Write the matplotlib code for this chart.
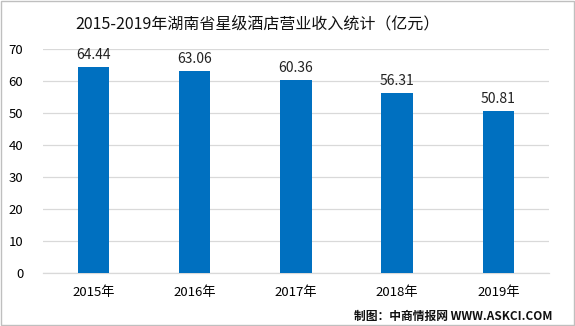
import matplotlib
matplotlib.use("Agg")
import matplotlib.pyplot as plt
from matplotlib.patches import Rectangle

plt.rcParams['font.family'] = ['Noto Sans CJK SC', 'DejaVu Sans']

categories = ["2015年", "2016年", "2017年", "2018年", "2019年"]
values = [64.44, 63.06, 60.36, 56.31, 50.81]
yticks = [0, 10, 20, 30, 40, 50, 60, 70]
title = "2015-2019年湖南省星级酒店营业收入统计（亿元）"
source = "制图：中商情报网 WWW.ASKCI.COM"

fig = plt.figure(figsize=(5.75, 3.26), dpi=100)
fig.patch.set_facecolor("white")
ax = fig.add_axes([0.0743, 0.1617, 0.8805, 0.6871])

x = list(range(len(categories)))
ax.bar(x, values, width=0.31, color="#0070C0", zorder=3)
for xi, v in zip(x, values):
    ax.text(xi, v + 1.6, f"{v:.2f}", ha="center", va="bottom", fontsize=10, color="#222222")

ax.set_xlim(-0.5, len(categories) - 0.5)
ax.set_ylim(0, 70)
ax.set_yticks(yticks)
ax.set_xticks(x)
ax.set_xticklabels(categories, fontsize=9.5)
ax.tick_params(axis="y", labelsize=9.5, length=0, pad=14)
ax.tick_params(axis="x", length=0, pad=9)
ax.grid(axis="y", color="#D9D9D9", linewidth=0.9, zorder=0)
for s in ["top", "right", "left"]:
    ax.spines[s].set_visible(False)
ax.spines["bottom"].set_color("#D9D9D9")
ax.spines["bottom"].set_linewidth(0.9)

fig.text(0.448, 0.925, title, ha="center", va="center", fontsize=11.5, color="#111111")
fig.text(0.96, 0.03, source, ha="right", va="center", fontsize=8.5, color="#111111", fontweight="bold")

fig.add_artist(Rectangle((0.001, 0.002), 0.997, 0.995, transform=fig.transFigure,
                         fill=False, edgecolor="#BFBFBF", linewidth=1.0))

fig.savefig("out.png", dpi=100)
